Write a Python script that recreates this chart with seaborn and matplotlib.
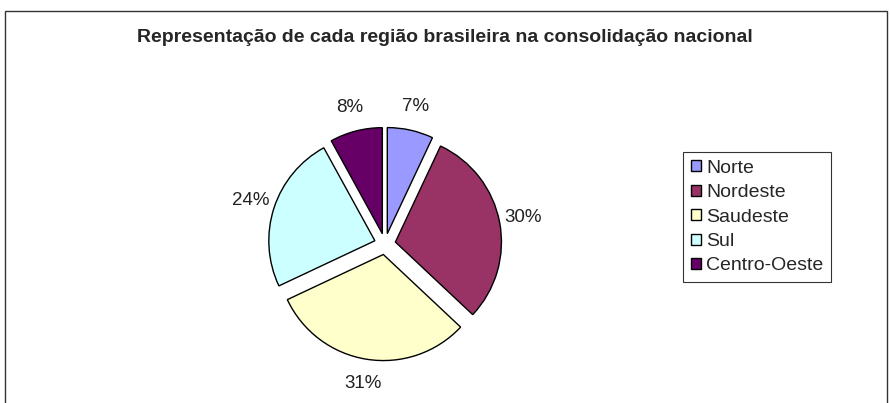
import numpy as np
import seaborn as sns
import matplotlib.pyplot as plt
from matplotlib.patches import Rectangle

regioes = ["Norte", "Nordeste", "Saudeste", "Sul", "Centro-Oeste"]
percentuais = [7, 30, 31, 24, 8]
cores = ["#9999FF", "#993366", "#FFFFCC", "#CCFFFF", "#660066"]
titulo = "Representação de cada região brasileira na consolidação nacional"

sns.set_style("white")
plt.rcParams["font.family"] = ["Liberation Sans", "DejaVu Sans"]

fig = plt.figure(figsize=(8.9, 4.03), dpi=100)
fig.patches.append(Rectangle((5 / 890, -0.1), 882 / 890, 1.1 - 11 / 403,
                             transform=fig.transFigure, fill=False,
                             edgecolor="#333333", linewidth=1.0))

ax = fig.add_axes([0.2657, 0.026, 0.3337, 0.737])
wedges, textos, pcts = ax.pie(
    percentuais, colors=cores, startangle=90, counterclock=False,
    explode=[0.1] * len(percentuais), autopct="%1.0f%%", pctdistance=1.23,
    wedgeprops=dict(edgecolor="black", linewidth=1.0))
for t in pcts:
    t.set_fontsize(13.5)
    t.set_color("#222222")
ax.set_xlim(-1.4, 1.4)
ax.set_ylim(-1.4, 1.4)

fig.text(0.5, 1 - 37 / 403, titulo, ha="center", va="center",
         fontsize=14, fontweight="bold")

leg = fig.legend(wedges, regioes, loc="upper left",
                 bbox_to_anchor=(683 / 890, 1 - 152 / 403),
                 fontsize=14, frameon=True, fancybox=False,
                 handlelength=0.5, handleheight=0.5, handletextpad=0.3,
                 labelspacing=0.38, borderpad=0.4, borderaxespad=0)
leg.get_frame().set_edgecolor("black")
leg.get_frame().set_linewidth(0.8)

plt.savefig("out.png", dpi=100)
